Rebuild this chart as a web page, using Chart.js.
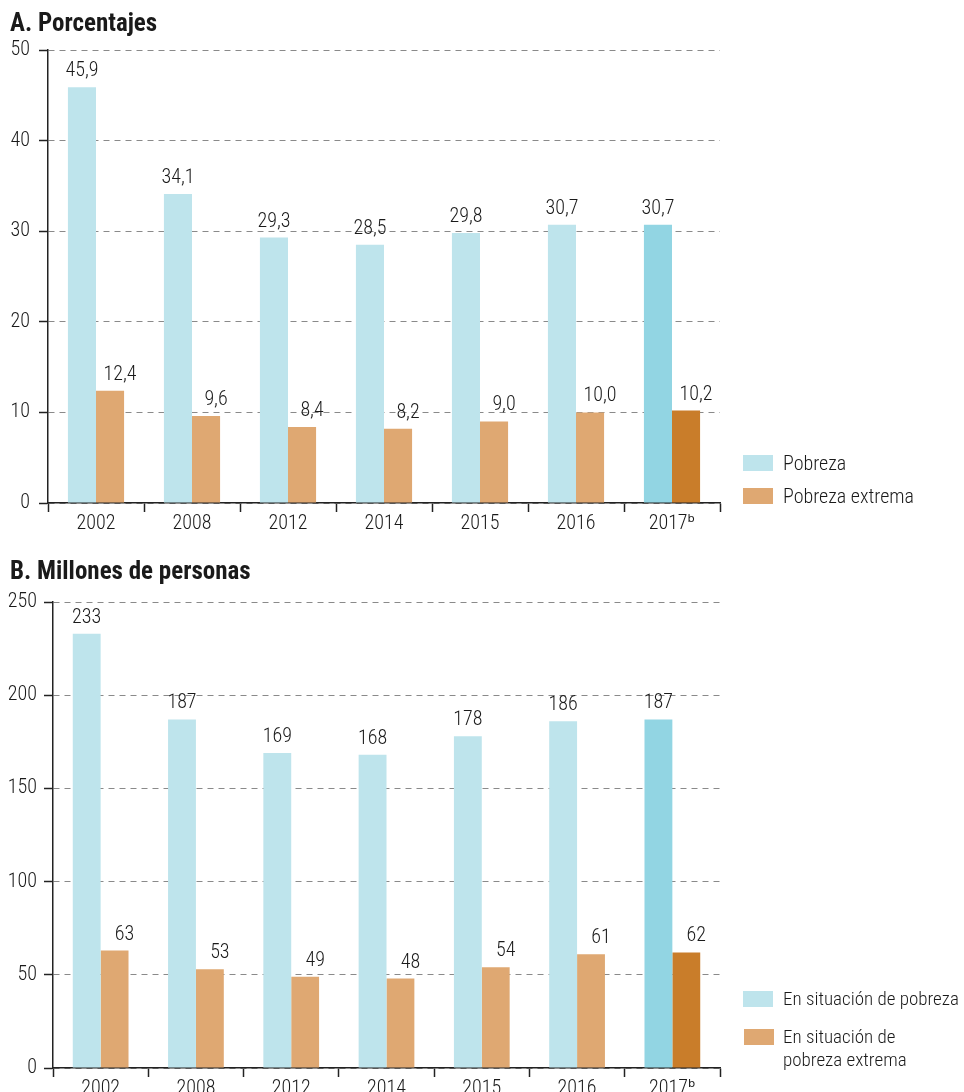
<!DOCTYPE html>
<html><head><meta charset="utf-8">
<script src="https://cdn.jsdelivr.net/npm/chart.js@4/dist/chart.umd.min.js"></script>
<style>
body{margin:0;width:964px;height:1092px;overflow:hidden;background:#fff;position:relative;}
.f{font-family:"Roboto Condensed","Liberation Sans Narrow","DejaVu Sans Condensed",Roboto,sans-serif;color:#1a1a1a;}
.title{position:absolute;font-weight:bold;font-size:25px;line-height:29px;white-space:nowrap;}
canvas{position:absolute;left:0;}
.sw{position:absolute;width:30px;height:16px;}
.lt{position:absolute;font-size:20px;line-height:24px;white-space:nowrap;font-weight:300;}
</style></head>
<body>
<canvas id="cA" width="964" height="545" style="top:0;width:964px;height:545px"></canvas>
<canvas id="cB" width="964" height="560" style="top:550px;width:964px;height:560px"></canvas>
<div class="title f" style="left:10px;top:8px">A. Porcentajes</div>
<div class="title f" style="left:10px;top:556px">B. Millones de personas</div>
<div class="sw" style="left:743px;top:455px;background:#BEE4EC"></div>
<div class="lt f" style="left:783px;top:451px">Pobreza</div>
<div class="sw" style="left:743px;top:488px;background:#DFA872"></div>
<div class="lt f" style="left:783px;top:484px">Pobreza extrema</div>
<div class="sw" style="left:743px;top:991px;background:#BEE4EC"></div>
<div class="lt f" style="left:783px;top:987px;font-size:19px">En situación de pobreza</div>
<div class="sw" style="left:744px;top:1029px;background:#DFA872"></div>
<div class="lt f" style="left:783px;top:1025px;line-height:23px;font-size:19px">En situación de<br>pobreza extrema</div>
<script>
const categories = ["2002","2008","2012","2014","2015","2016","2017ᵇ"];
const pobrezaPct = [45.9, 34.1, 29.3, 28.5, 29.8, 30.7, 30.7];
const extremaPct = [12.4, 9.6, 8.4, 8.2, 9.0, 10.0, 10.2];
const pobrezaMill = [233, 187, 169, 168, 178, 186, 187];
const extremaMill = [63, 53, 49, 48, 54, 61, 62];
const ticksPct = [0, 10, 20, 30, 40, 50];
const ticksMill = [0, 50, 100, 150, 200, 250];

const FONT = '"Roboto Condensed","Liberation Sans Narrow","DejaVu Sans Condensed",Roboto,sans-serif';
const LIGHT_BLUE = '#BEE4EC', DARK_BLUE = '#92D5E3';
const LIGHT_OR = '#DFA872', DARK_OR = '#C97D2A';
const blueCols = categories.map((c,i)=> i===categories.length-1 ? DARK_BLUE : LIGHT_BLUE);
const orCols = categories.map((c,i)=> i===categories.length-1 ? DARK_OR : LIGHT_OR);

const labelPlugin = {
  id:'vals',
  afterDatasetsDraw(chart, args, opts){
    const ctx = chart.ctx;
    ctx.save();
    ctx.font = '300 20px ' + FONT;
    ctx.fillStyle = '#1a1a1a';
    ctx.textAlign = 'center';
    ctx.textBaseline = 'alphabetic';
    chart.data.datasets.forEach((ds, di)=>{
      const meta = chart.getDatasetMeta(di);
      meta.data.forEach((el, i)=>{
        const v = ds.data[i];
        const txt = opts.decimals ? v.toFixed(1).replace('.', ',') : String(v);
        ctx.fillText(txt, el.x + (di===1 ? 10 : 0), el.y - 11);
      });
    });
    ctx.restore();
  }
};

function makeChart(id, d1, d2, ticks, max, leftW, topPad, tickPad, decimals){
  new Chart(document.getElementById(id), {
    type:'bar',
    data:{labels:categories, datasets:[
      {data:d1, backgroundColor:blueCols, categoryPercentage:0.585, barPercentage:1.0, borderWidth:0},
      {data:d2, backgroundColor:orCols, categoryPercentage:0.585, barPercentage:1.0, borderWidth:0}
    ]},
    options:{
      responsive:false, animation:false, devicePixelRatio:1,
      layout:{padding:{left:0, right:244, top:topPad, bottom:0}},
      plugins:{legend:{display:false}, tooltip:{enabled:false}, vals:{decimals}},
      scales:{
        x:{
          offset:true,
          grid:{drawOnChartArea:false, drawTicks:true, tickLength:9, tickColor:'#222', tickWidth:1.5, offset:true},
          border:{display:true, color:'#222', width:1.5},
          ticks:{font:{family:FONT, size:20, weight:300}, color:'#1a1a1a', padding:0, maxRotation:0, autoSkip:false},
          afterFit(s){ s.height = 42; }
        },
        y:{
          min:0, max:max,
          afterBuildTicks(s){ s.ticks = ticks.map(v=>({value:v})); },
          grid:{color:'#8a8a8a', lineWidth:1, drawTicks:true, tickLength:9, tickColor:'#222', tickWidth:1.5},
          border:{display:true, color:'#222', width:1.5, dash:[6,5]},
          ticks:{font:{family:FONT, size:20, weight:300}, color:'#1a1a1a', padding:tickPad},
          afterFit(s){ s.width = leftW; }
        }
      }
    },
    plugins:[labelPlugin]
  });
}
makeChart('cA', pobrezaPct, extremaPct, ticksPct, 50, 48, 50, 9, true);
makeChart('cB', pobrezaMill, extremaMill, ticksMill, 250, 53, 52, 7, false);
</script>
</body></html>
